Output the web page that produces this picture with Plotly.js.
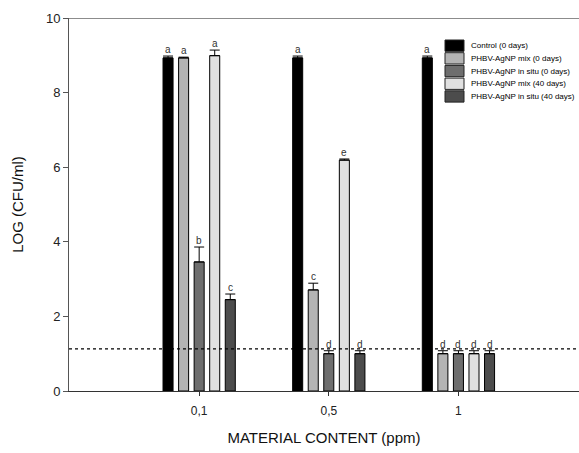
<!DOCTYPE html>
<html>
<head>
<meta charset="utf-8">
<script src="https://cdn.plot.ly/plotly-3.0.1.min.js"></script>
<style>html,body{margin:0;padding:0;background:#fff;}#chart{width:579px;height:453px;}</style>
</head>
<body>
<div id="chart"></div>
<script>
const categories = ['0,1', '0,5', '1'];
const seriesNames = ['Control (0 days)', 'PHBV-AgNP mix (0 days)', 'PHBV-AgNP in situ (0 days)', 'PHBV-AgNP mix (40 days)', 'PHBV-AgNP in situ (40 days)'];
const control0 = [8.93, 8.93, 8.93];
const mix0 = [8.93, 2.71, 1.0];
const insitu0 = [3.46, 1.0, 1.0];
const mix40 = [8.99, 6.19, 1.0];
const insitu40 = [2.45, 1.0, 1.0];
const errControl0 = [0.05, 0.05, 0.05];
const errMix0 = [0.02, 0.18, 0.08];
const errInsitu0 = [0.4, 0.08, 0.08];
const errMix40 = [0.15, 0.03, 0.08];
const errInsitu40 = [0.15, 0.08, 0.08];
const lettersControl0 = ['a', 'a', 'a'];
const lettersMix0 = ['a', 'c', 'd'];
const lettersInsitu0 = ['b', 'd', 'd'];
const lettersMix40 = ['a', 'e', 'd'];
const lettersInsitu40 = ['c', 'd', 'd'];
const detectionLimit = 1.13;

const values = [control0, mix0, insitu0, mix40, insitu40];
const errors = [errControl0, errMix0, errInsitu0, errMix40, errInsitu40];
const letters = [lettersControl0, lettersMix0, lettersInsitu0, lettersMix40, lettersInsitu40];
const colors = ['#000000', '#b4b4b4', '#6e6e6e', '#e0e0e0', '#4c4c4c'];

const bargap = 0.4;
const nSeries = values.length;
const slot = (1 - bargap) / nSeries;

const traces = values.map((v, k) => ({
  type: 'bar',
  name: seriesNames[k],
  x: categories,
  y: v,
  showlegend: false,
  marker: {color: colors[k], line: {color: '#000', width: 1}},
  error_y: {type: 'data', array: errors[k], symmetric: false, arrayminus: v.map(() => 0), color: '#000', thickness: 1, width: 5}
}));

const annotations = [];
values.forEach((v, k) => {
  v.forEach((val, i) => {
    annotations.push({
      x: i + (k - (nSeries - 1) / 2) * slot,
      y: val + errors[k][i],
      xref: 'x', yref: 'y',
      text: letters[k][i],
      showarrow: false,
      yanchor: 'bottom',
      yshift: -1,
      font: {family: 'Liberation Sans, Arial, sans-serif', size: 10, color: '#333'}
    });
  });
});

// custom compact legend (paper coordinates)
const shapes = [
  {type: 'line', xref: 'paper', yref: 'y', x0: 0, x1: 1, y0: 10, y1: 10, line: {color: '#666', width: 1.5}},
  {type: 'line', xref: 'paper', yref: 'y', x0: 0, x1: 1, y0: detectionLimit, y1: detectionLimit, line: {color: '#000', width: 1.3, dash: 'dot'}}
];
const plotL = 69, plotT = 18, plotW = 510, plotH = 373;
const px2x = p => (p - plotL) / plotW;
const px2y = p => (plotT + plotH - p) / plotH;
seriesNames.forEach((name, k) => {
  const top = 40 + k * 12.7;
  shapes.push({
    type: 'rect', xref: 'paper', yref: 'paper',
    x0: px2x(445), x1: px2x(464), y0: px2y(top + 11.3), y1: px2y(top),
    fillcolor: colors[k], line: {color: '#222', width: 1}
  });
  annotations.push({
    xref: 'paper', yref: 'paper', x: px2x(469), y: px2y(top + 5.8),
    xanchor: 'left', yanchor: 'middle', showarrow: false,
    text: name, font: {family: 'Liberation Sans, Arial, sans-serif', size: 8, color: '#000'}
  });
});

const layout = {
  width: 579, height: 453,
  margin: {l: 69, r: 0, t: 18, b: 62},
  paper_bgcolor: '#fff', plot_bgcolor: '#fff',
  font: {family: 'Liberation Sans, Arial, sans-serif', color: '#222'},
  barmode: 'group',
  bargap: bargap,
  bargroupgap: 0.355,
  showlegend: false,
  xaxis: {
    type: 'category',
    range: [-1.004, 2.93],
    showline: true, linecolor: '#333', linewidth: 1,
    ticks: 'outside', ticklen: 4, tickcolor: '#333',
    ticklabelstandoff: 5,
    showgrid: false, zeroline: false,
    tickfont: {size: 12, color: '#222'},
    title: {text: 'MATERIAL CONTENT (ppm)', font: {size: 15, color: '#111'}, standoff: 15}
  },
  yaxis: {
    range: [0, 10],
    tickvals: [0, 2, 4, 6, 8, 10],
    showline: true, linecolor: '#555', linewidth: 1,
    ticks: 'outside', ticklen: 5, tickcolor: '#555',
    showgrid: false, zeroline: false,
    tickfont: {size: 13, color: '#222'},
    title: {text: 'LOG (CFU/ml)', font: {size: 15, color: '#111'}, standoff: 18}
  },
  shapes: shapes,
  annotations: annotations
};

Plotly.newPlot('chart', traces, layout, {displayModeBar: false, staticPlot: true});
</script>
</body>
</html>
